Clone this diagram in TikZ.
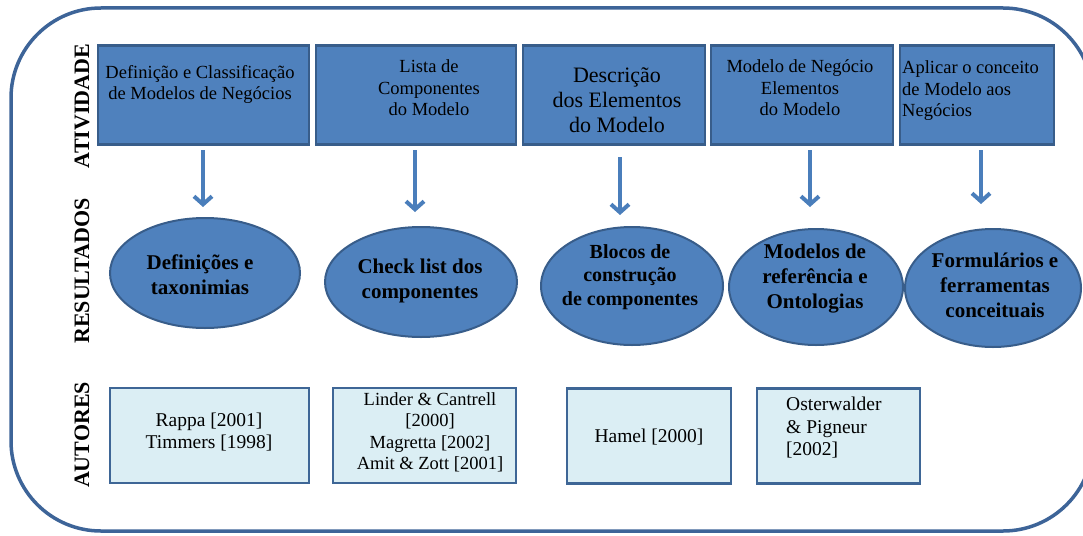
\documentclass[tikz,border=0pt]{standalone}
\usepackage{fontspec}
\newfontfamily\tnr{Liberation Serif}
\usetikzlibrary{arrows.meta,shapes.geometric}
\definecolor{boxfill}{HTML}{4F81BD}
\definecolor{boxline}{HTML}{385D8A}
\definecolor{autfill}{HTML}{DBEEF4}
\definecolor{autline}{HTML}{3E6696}
\definecolor{arrowblue}{HTML}{4A7EBB}
\definecolor{outline}{HTML}{3D6498}
\tikzset{
  actbox/.style={draw=boxline, fill=boxfill, line width=2.2pt, rectangle, inner sep=0pt},
  resell/.style={draw=boxline, fill=boxfill, line width=2pt, ellipse, inner sep=0pt},
  autbox/.style={draw=autline, fill=autfill, line width=2.6pt, rectangle, inner sep=0pt},
  acttext/.style={inner sep=0pt, align=center, font=\tnr\fontsize{18.5}{21.5}\selectfont},
  restext/.style={inner sep=0pt, align=center, font=\tnr\fontsize{21}{25}\selectfont\bfseries},
  auttext/.style={inner sep=0pt, align=center, font=\tnr\fontsize{19.5}{22.5}\selectfont},
  rowlabel/.style={inner sep=0pt, rotate=90, font=\tnr\fontsize{22}{24}\selectfont\bfseries},
  flow/.style={draw=arrowblue, line width=4pt, -{Straight Barb[length=8pt,width=18pt]}}
}
\begin{document}
\begin{tikzpicture}[x=1pt,y=-1pt]
\path[use as bounding box] (0,0) rectangle (1083,535);
% outer frame
\draw[outline, line width=3.5pt, rounded corners=90pt] (11,8) rectangle (1093,531);

% row labels
\node[rowlabel] (lab1) at (82,106) {ATIVIDADE};
\node[rowlabel] (lab2) at (82,271) {RESULTADOS};
\node[rowlabel] (lab3) at (82,435) {AUTORES};

% activity boxes
\node[actbox, minimum width=211pt, minimum height=99pt] (b1) at (203.5,95) {};
\node[actbox, minimum width=200pt, minimum height=99pt] (b2) at (416,95) {};
\node[actbox, minimum width=182pt, minimum height=99pt] (b3) at (614,95) {};
\node[actbox, minimum width=182pt, minimum height=99pt] (b4) at (802,95) {};
\node[actbox, minimum width=154pt, minimum height=99pt] (b5) at (977,95) {};

\node[acttext] (t1) at (200,84.5) {Definição e Classificação\\de Modelos de Negócios};
\node[acttext] (t2) at (429,88) {Lista de\\Componentes\\do Modelo};
\node[acttext, font=\tnr\fontsize{22}{25}\selectfont] (t3) at (617,100) {Descrição\\dos Elementos\\do Modelo};
\node[acttext] (t4) at (800,88) {Modelo de Negócio\\Elementos\\do Modelo};
\node[acttext, align=left, anchor=west] (t5) at (902,91) {Aplicar o conceito\\de Modelo aos\\Negócios};

% result ellipses
\node[resell, minimum width=190pt, minimum height=110pt] (e1) at (205,273) {};
\node[resell, minimum width=192pt, minimum height=110pt] (e2) at (421,282) {};
\node[resell, minimum width=182pt, minimum height=118pt] (e3) at (632,286) {};
\node[resell, minimum width=174pt, minimum height=116pt] (e4) at (816,287) {};
\node[resell, minimum width=176pt, minimum height=118pt] (e5) at (993,288) {};

\node[restext] (r1) at (200,275) {Definições e\\taxonimias};
\node[restext] (r2) at (420,281) {Check list dos\\componentes};
\node[restext, font=\tnr\fontsize{20}{23.5}\selectfont\bfseries] (r3) at (630,277) {Blocos de\\construção\\de componentes};
\node[restext] (r4) at (815,279) {Modelos de\\referência e\\Ontologias};
\node[restext] (r5) at (995,285) {Formulários e\\ferramentas\\conceituais};

% arrows
\coordinate (s1) at (203,150); \coordinate (f1) at (203,207);
\coordinate (s2) at (415,150); \coordinate (f2) at (415,212);
\coordinate (s3) at (620,157); \coordinate (f3) at (620,215);
\coordinate (s4) at (810,150); \coordinate (f4) at (810,207);
\coordinate (s5) at (981,150); \coordinate (f5) at (981,204);
\draw[flow] (s1) -- (f1);
\draw[flow] (s2) -- (f2);
\draw[flow] (s3) -- (f3);
\draw[flow] (s4) -- (f4);
\draw[flow] (s5) -- (f5);

% author boxes
\node[autbox, minimum width=199pt, minimum height=95pt] (a1) at (209.5,435.5) {};
\node[autbox, minimum width=183pt, minimum height=95pt] (a2) at (424.5,435.5) {};
\node[autbox, minimum width=164pt, minimum height=95pt] (a3) at (649,436) {};
\node[autbox, minimum width=163pt, minimum height=95pt] (a4) at (838.5,436) {};

\node[auttext] (u1) at (209,432) {Rappa [2001]\\Timmers [1998]};
\node[auttext, font=\tnr\fontsize{18.5}{21.5}\selectfont] (u2) at (430,432.5) {Linder \& Cantrell\\{}[2000]\\Magretta [2002]\\Amit \& Zott [2001]};
\node[auttext] (u3) at (649,437) {Hamel [2000]};
\node[auttext, align=left, anchor=west] (u4) at (786,428) {Osterwalder\\\& Pigneur\\{}[2002]};
\end{tikzpicture}
\end{document}
